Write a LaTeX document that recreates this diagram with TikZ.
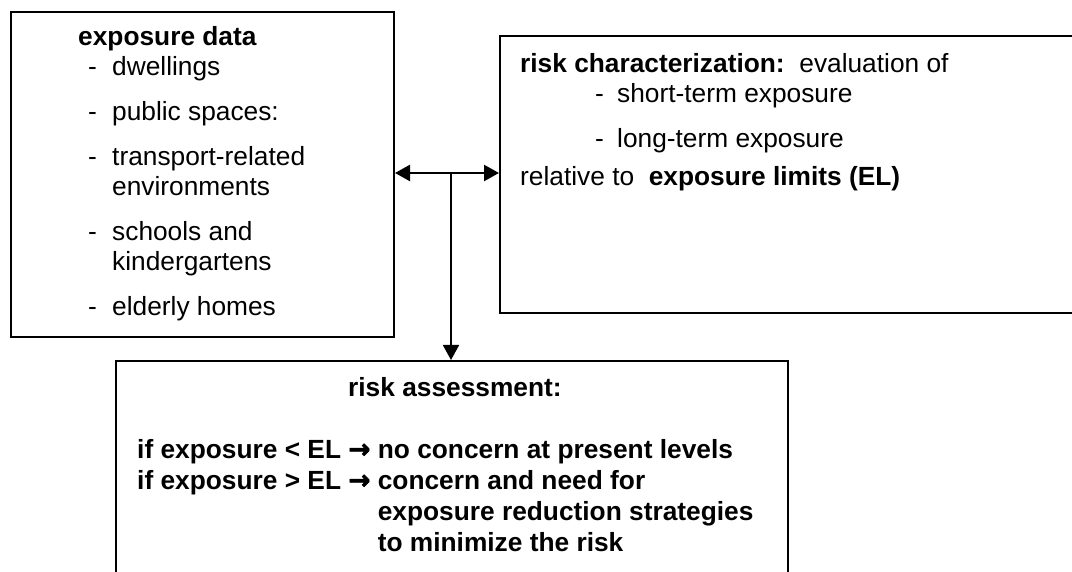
\documentclass[tikz,border=0pt]{standalone}
\usepackage{fontspec}
\setmainfont{Liberation Sans}
\newfontface\arrowface[FakeBold=2.5]{DejaVu Sans Bold}
\usetikzlibrary{arrows.meta}

\newcommand{\giveson}{{\arrowface →}}

\begin{document}
\begin{tikzpicture}[x=1pt, y=-1pt,
  box/.style={draw, line width=2pt, anchor=north west, inner sep=0pt},
  txt/.style={anchor=base west, inner sep=0pt, font=\fontsize{26.3}{30.3}\selectfont},
  head/.style={txt, font=\fontsize{26.3}{30.3}\selectfont\bfseries},
  tip/.tip={Triangle[length=15pt, width=16pt]}]
\path[use as bounding box, clip] (0,0) rectangle (1072,572);
\node[box, minimum width=383pt, minimum height=325pt] (data) at (10,11) {};
\node[box, minimum width=620pt, minimum height=277pt] (charac) at (499,35) {};
\node[box, minimum width=672pt, minimum height=260pt] (assess) at (115,360) {};
\node[head] (datatitle) at (78,46) {exposure data};
\foreach \y [count=\i] in {76,121,166,241,316}
  \node[txt] (dash\i) at (88,\y) {-};
\node[txt] (dwell) at (112,76) {dwellings};
\node[txt] (public) at (112,121) {public spaces:};
\node[txt] (transp) at (112,166) {transport-related};
\node[txt] (envir) at (112,196) {environments};
\node[txt] (school) at (112,241) {schools and};
\node[txt] (kinder) at (112,271) {kindergartens};
\node[txt] (elder) at (112,316) {elderly homes};
\node[txt] (chartitle) at (520,73) {\textbf{risk characterization:}\ \ evaluation of};
\node[txt] (dash6) at (595,103) {-};
\node[txt] (shortt) at (617,103) {short-term exposure};
\node[txt] (dash7) at (595,148) {-};
\node[txt] (longt) at (617,148) {long-term exposure};
\node[txt] (relat) at (520,186) {relative to\ \ \textbf{exposure limits (EL)}};
\node[head] (asstitle) at (348,396) {risk assessment:};
\node[head] (lower) at (137,458) {if exposure < EL \giveson};
\node[head] (lowerto) at ([xshift=7pt]lower.base east) {no concern at present levels};
\node[head] (upper) at (137,489) {if exposure > EL \giveson};
\node[head] (upperto) at ([xshift=7pt]upper.base east) {concern and need for};
\node[head] (uppertoa) at ([yshift=-31pt]upperto.base west) {exposure reduction strategies};
\node[head] (uppertob) at ([yshift=-31pt]uppertoa.base west) {to minimize the risk};
\coordinate (mid) at (451,173);
\draw[line width=2.4pt, tip-tip] (data.east |- mid) -- (charac.west |- mid);
\draw[line width=1.8pt, -tip] (mid) -- (assess.north -| mid);
\end{tikzpicture}
\end{document}
